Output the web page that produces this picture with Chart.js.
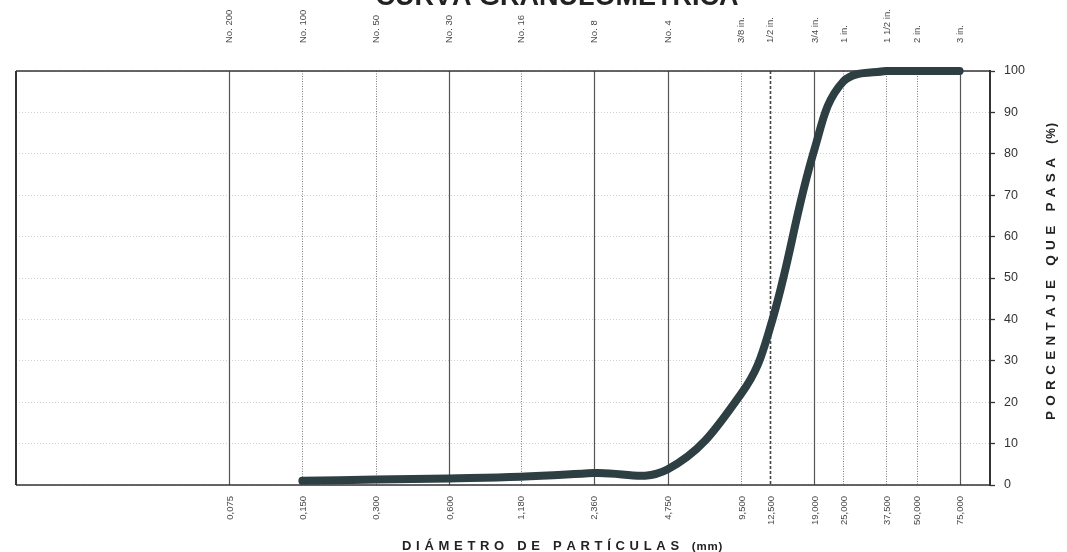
<!DOCTYPE html>
<html><head><meta charset="utf-8">
<script src="https://cdn.jsdelivr.net/npm/chart.js@4.4.1/dist/chart.umd.min.js"></script>
<style>html,body{margin:0;padding:0;background:#fff;overflow:hidden}</style>
</head><body>
<canvas id="c" width="1067" height="552" style="width:1067px;height:552px;display:block"></canvas>
<script>
// ---- data ----
const sieveNames = ['No. 200','No. 100','No. 50','No. 30','No. 16','No. 8','No. 4','3/8 in.','1/2 in.','3/4 in.','1 in.','1 1/2 in.','2 in.','3 in.'];
const sieveSizes = [0.075,0.150,0.300,0.600,1.180,2.360,4.750,9.500,12.500,19.000,25.000,37.500,50.000,75.000];
const sizeLabels = ['0,075','0,150','0,300','0,600','1,180','2,360','4,750','9,500','12,500','19,000','25,000','37,500','50,000','75,000'];
const curveSizes = [0.150,0.300,0.600,1.180,2.360,4.750,9.500,12.500,19.000,25.000,37.500,50.000,75.000];
const curvePassing = [1.0,1.3,1.6,2.0,2.9,3.8,22,38,81,97.5,100,100,100];
const titleText = 'CURVA GRANULOMÉTRICA';
const xTitle = 'DIÁMETRO DE PARTÍCULAS';
const xTitleUnit = '(mm)';
const yTitle = 'PORCENTAJE QUE PASA';
const yTitleUnit = '(%)';

// ---- styles ----
const FONT = "'Liberation Sans', Arial, Helvetica, sans-serif";
const lineKinds = ['solid','dotted','dotted','solid','dotted','solid','solid','dotted','dashed','solid','dotted','dotted','dotted','solid'];

function spacedWidth(ctx, text, sp){
  let w = 0;
  for (const ch of text) w += ctx.measureText(ch).width + sp;
  return w - sp;
}
function drawSpaced(ctx, text, x, y, sp){
  for (const ch of text){ ctx.fillText(ch, x, y); x += ctx.measureText(ch).width + sp; }
  return x;
}

const framePlugin = {
  id: 'frame',
  beforeDatasetsDraw(chart){
    const {ctx, chartArea: a} = chart;
    const xs = chart.scales.x;
    ctx.save();
    sieveSizes.forEach((v, i) => {
      const px = Math.round(xs.getPixelForValue(v)) + 0.5;
      const k = lineKinds[i];
      ctx.beginPath();
      if (k === 'solid'){ ctx.strokeStyle = '#555'; ctx.lineWidth = 1.2; ctx.setLineDash([]); }
      else if (k === 'dotted'){ ctx.strokeStyle = '#7a7a7a'; ctx.lineWidth = 1; ctx.setLineDash([1,1.5]); }
      else { ctx.strokeStyle = '#444'; ctx.lineWidth = 1.6; ctx.setLineDash([3,2]); }
      ctx.moveTo(px, a.top); ctx.lineTo(px, a.bottom); ctx.stroke();
    });
    ctx.setLineDash([]);
    ctx.strokeStyle = '#333';
    ctx.lineWidth = 2;
    ctx.beginPath(); ctx.moveTo(a.left, a.top); ctx.lineTo(a.left, a.bottom); ctx.stroke();
    ctx.beginPath(); ctx.moveTo(a.right, a.top - 1); ctx.lineTo(a.right, a.bottom + 1); ctx.stroke();
    ctx.lineWidth = 1.6;
    ctx.beginPath(); ctx.moveTo(a.left, a.top); ctx.lineTo(a.right, a.top); ctx.stroke();
    ctx.beginPath(); ctx.moveTo(a.left, a.bottom); ctx.lineTo(a.right, a.bottom); ctx.stroke();
    ctx.restore();
  },
  afterDraw(chart){
    const {ctx} = chart;
    ctx.save();
    ctx.fillStyle = '#222';
    ctx.textBaseline = 'alphabetic';
    ctx.textAlign = 'left';
    // main title (partly cut off at top)
    ctx.font = `bold 27px ${FONT}`;
    const tw = spacedWidth(ctx, titleText, 0);
    drawSpaced(ctx, titleText, 557 - tw/2, 5, 0);
    // x title
    ctx.font = `bold 13px ${FONT}`;
    let x = drawSpaced(ctx, xTitle, 402, 550, 4.7);
    ctx.font = `bold 11.5px ${FONT}`;
    drawSpaced(ctx, xTitleUnit, x + 8, 550, 0.8);
    // y title rotated
    ctx.translate(1055, 420);
    ctx.rotate(-Math.PI/2);
    ctx.font = `bold 13.5px ${FONT}`;
    x = drawSpaced(ctx, yTitle, 0, 0, 5.3);
    ctx.font = `bold 12px ${FONT}`;
    drawSpaced(ctx, yTitleUnit, x + 9, 0, 1);
    ctx.restore();
  }
};

const xTickCommon = {
  autoSkip: false, minRotation: 90, maxRotation: 90,
  color: '#4a4a4a', font: {family: FONT, size: 9.5}
};

new Chart(document.getElementById('c').getContext('2d'), {
  type: 'line',
  data: {
    datasets: [{
      data: curveSizes.map((s, i) => ({x: s, y: curvePassing[i]})),
      borderColor: '#2d3f43', borderWidth: 8, pointRadius: 0, tension: 0.4,
      fill: false, borderCapStyle: 'round', borderJoinStyle: 'round', clip: 6
    }]
  },
  options: {
    responsive: false, animation: false, devicePixelRatio: 1,
    layout: {padding: {left: 16, right: 0, top: 0, bottom: 0}, autoPadding: false},
    plugins: {legend: {display: false}, tooltip: {enabled: false}, title: {display: false}},
    scales: {
      x: {
        type: 'logarithmic', position: 'bottom', min: 0.01, max: 100,
        grid: {display: false, drawTicks: false}, border: {display: false},
        afterBuildTicks: s => { s.ticks = sieveSizes.map(v => ({value: v})); },
        afterFit: s => { s.height = 67; },
        ticks: Object.assign({}, xTickCommon, {padding: 11, labelOffset: 1, callback: (v, i) => sizeLabels[i]})
      },
      x2: {
        type: 'logarithmic', position: 'top', min: 0.01, max: 100,
        grid: {display: false, drawTicks: false}, border: {display: false},
        afterBuildTicks: s => { s.ticks = sieveSizes.map(v => ({value: v})); },
        afterFit: s => { s.height = 71; },
        ticks: Object.assign({}, xTickCommon, {padding: 28, labelOffset: 12, callback: (v, i) => sieveNames[i]})
      },
      y: {
        position: 'right', min: 0, max: 100,
        afterFit: s => { s.width = 77; },
        grid: {color: '#cfcfcf', lineWidth: 1, tickColor: '#333', tickLength: 5, tickWidth: 1.3},
        border: {display: false, dash: [1, 2]},
        ticks: {stepSize: 10, padding: 9, color: '#333', font: {family: FONT, size: 12.5}}
      }
    }
  },
  plugins: [framePlugin]
});
</script>
</body></html>
